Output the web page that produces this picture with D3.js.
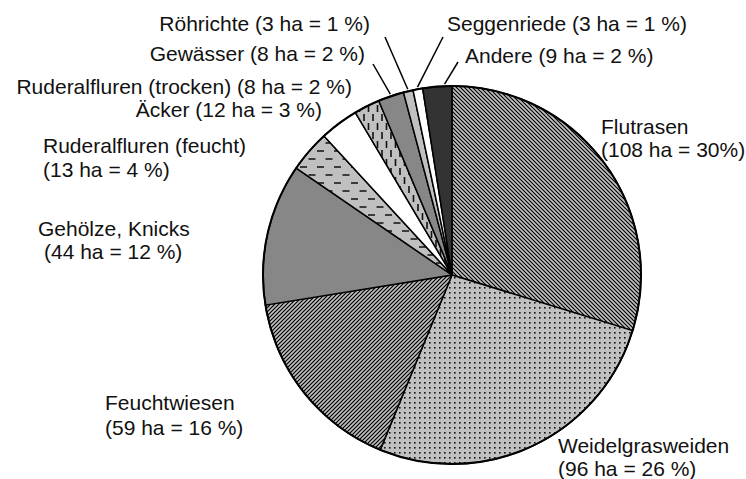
<!DOCTYPE html>
<html>
<head>
<meta charset="utf-8">
<script src="https://cdn.jsdelivr.net/npm/d3@7/dist/d3.min.js"></script>
<style>
  body { margin: 0; background: #fff; }
  text { font-family: "Liberation Sans", Arial, sans-serif; font-size: 21px; fill: #111; }
</style>
</head>
<body>
<div id="chart"></div>
<script>
// data, clockwise from 12 o'clock
const categories = ["Flutrasen", "Weidelgrasweiden", "Feuchtwiesen", "Gehölze, Knicks",
    "Ruderalfluren (feucht)", "Äcker", "Ruderalfluren (trocken)", "Gewässer",
    "Röhrichte", "Seggenriede", "Andere"]
const hectares = [108, 96, 59, 44, 13, 12, 8, 8, 3, 3, 9]
const percents = [30, 26, 16, 12, 4, 3, 2, 2, 1, 1, 2]
// printed label lines ("|" splits into two lines)
const labelText = [
    "Flutrasen|(108 ha = 30%)",
    "Weidelgrasweiden|(96 ha = 26 %)",
    "Feuchtwiesen|(59 ha = 16 %)",
    "Gehölze, Knicks|(44 ha = 12 %)",
    "Ruderalfluren (feucht)|(13 ha = 4 %)",
    "Äcker (12 ha = 3 %)",
    "Ruderalfluren (trocken) (8 ha = 2 %)",
    "Gewässer (8 ha = 2 %)",
    "Röhrichte (3 ha = 1 %)",
    "Seggenriede (3 ha = 1 %)",
    "Andere (9 ha = 2 %)"
]
const fills = ["url(#p-back)", "url(#p-dots)", "url(#p-fwd)", "#878787", "url(#p-hdash)",
    "#ffffff", "url(#p-vdash)", "#878787", "#c0c0c0", "#ffffff", "#333333"]

// label layout: x, baseline y, anchor, second line x/dy, leader end (or null)
const labelLayout = [
    {x: 601, y: 134, anchor: "start", x2: 601, dy: 23, lead: null},
    {x: 558, y: 453, anchor: "start", x2: 558, dy: 23, lead: null},
    {x: 105, y: 410, anchor: "start", x2: 105, dy: 25, lead: null},
    {x: 38, y: 236, anchor: "start", x2: 44, dy: 23, lead: null},
    {x: 43, y: 153, anchor: "start", x2: 43, dy: 24, lead: null},
    {x: 322, y: 117, anchor: "end", lead: null},
    {x: 352, y: 94, anchor: "end", lead: null},
    {x: 365, y: 61, anchor: "end", lead: [373, 64], at: 0.5},
    {x: 370, y: 31, anchor: "end", lead: [385, 37], at: 0.5},
    {x: 447, y: 31, anchor: "start", lead: [443, 37], at: 0.5},
    {x: 465, y: 63, anchor: "start", lead: [458, 62], at: 0.75}
]

const WIDTH = 746, HEIGHT = 479
const cx = 452, cy = 275, radius = 189

let svg = d3.select("#chart").append("svg")
    .attr("width", WIDTH).attr("height", HEIGHT)

// hatch patterns
let defs = svg.append("defs")
let p = defs.append("pattern").attr("id", "p-back").attr("patternUnits", "userSpaceOnUse")
    .attr("width", 4).attr("height", 4)
p.append("rect").attr("width", 4).attr("height", 4).attr("fill", "#c0c0c0")
p.append("path").attr("d", "M-1,-1L5,5M-1,3L1,5M3,-1L5,1").attr("stroke", "#000").attr("stroke-width", 1.1)

p = defs.append("pattern").attr("id", "p-fwd").attr("patternUnits", "userSpaceOnUse")
    .attr("width", 4).attr("height", 4)
p.append("rect").attr("width", 4).attr("height", 4).attr("fill", "#c0c0c0")
p.append("path").attr("d", "M-1,5L5,-1M-1,1L1,-1M3,5L5,3").attr("stroke", "#000").attr("stroke-width", 1.2)

p = defs.append("pattern").attr("id", "p-dots").attr("patternUnits", "userSpaceOnUse")
    .attr("width", 5).attr("height", 5)
p.append("rect").attr("width", 5).attr("height", 5).attr("fill", "#c0c0c0")
p.append("rect").attr("x", 2).attr("y", 2).attr("width", 1.6).attr("height", 1.6).attr("fill", "#111")

p = defs.append("pattern").attr("id", "p-hdash").attr("patternUnits", "userSpaceOnUse")
    .attr("width", 17).attr("height", 16)
p.append("rect").attr("width", 17).attr("height", 16).attr("fill", "#c0c0c0")
p.append("path").attr("d", "M1,4h7M9.5,12h7").attr("stroke", "#111").attr("stroke-width", 1.5)

p = defs.append("pattern").attr("id", "p-vdash").attr("patternUnits", "userSpaceOnUse")
    .attr("width", 9).attr("height", 18)
p.append("rect").attr("width", 9).attr("height", 18).attr("fill", "#c0c0c0")
p.append("path").attr("d", "M2,1v7M6.5,10v7").attr("stroke", "#111").attr("stroke-width", 1.6)

let g = svg.append("g").attr("transform", "translate(" + cx + "," + cy + ")")

const pie = d3.pie().sort(null).value(d => d)
const arcs = pie(hectares)
const arc = d3.arc().innerRadius(0).outerRadius(radius)

g.selectAll("path.slice")
    .data(arcs).enter()
    .append("path")
    .attr("class", "slice")
    .attr("d", arc)
    .attr("fill", (d, i) => fills[i])
    .attr("stroke", "#000")
    .attr("stroke-width", 1.5)
    .attr("stroke-linejoin", "round")

g.append("circle").attr("r", radius).attr("fill", "none")
    .attr("stroke", "#000").attr("stroke-width", 2)

// leader lines
arcs.forEach(function (d, i) {
    let lay = labelLayout[i]
    if (!lay.lead) return
    let a = d.startAngle + (d.endAngle - d.startAngle) * lay.at
    let r = radius + 2
    svg.append("line")
        .attr("x1", lay.lead[0]).attr("y1", lay.lead[1])
        .attr("x2", cx + r * Math.sin(a)).attr("y2", cy - r * Math.cos(a))
        .attr("stroke", "#000").attr("stroke-width", 1.5)
})

// labels
labelText.forEach(function (t, i) {
    let lay = labelLayout[i]
    let lines = t.split("|")
    let txt = svg.append("text")
        .attr("x", lay.x).attr("y", lay.y)
        .attr("text-anchor", lay.anchor)
    txt.append("tspan").attr("x", lay.x).text(lines[0])
    if (lines.length > 1) {
        txt.append("tspan").attr("x", lay.x2).attr("dy", lay.dy).text(lines[1])
    }
})
</script>
</body>
</html>
